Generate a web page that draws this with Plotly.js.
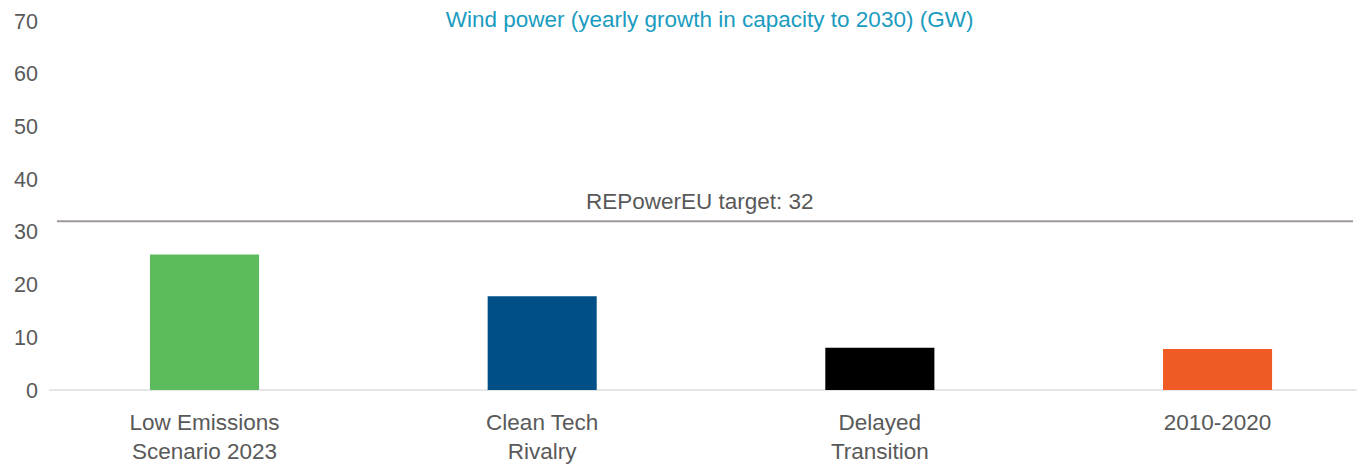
<!DOCTYPE html>
<html>
<head>
<meta charset="utf-8">
<script src="https://cdn.plot.ly/plotly-3.0.1.min.js"></script>
<style>html,body{margin:0;padding:0;background:#fff;}#chart{width:1357px;height:466px;}</style>
</head>
<body>
<div id="chart"></div>
<script>
const categories = ["Low Emissions<br>Scenario 2023", "Clean Tech<br>Rivalry", "Delayed<br>Transition", "2010-2020"];
const values = [25.7, 17.8, 8.0, 7.8];
const barColors = ["#5CBB5C", "#004F86", "#000000", "#F05A24"];
const targetValue = 32;
const targetLabel = "REPowerEU target: 32";
const chartTitle = "Wind power (yearly growth in capacity to 2030) (GW)";
const yTicks = [0, 10, 20, 30, 40, 50, 60, 70];

const font = "Liberation Sans, Arial, sans-serif";

const trace = {
  type: "bar",
  x: categories,
  y: values,
  marker: {color: barColors, line: {width: 0}},
  width: 0.323,
  hoverinfo: "x+y"
};

const layout = {
  width: 1357, height: 466,
  margin: {l: 49, r: 0, t: 10, b: 66},
  paper_bgcolor: "#ffffff",
  plot_bgcolor: "#ffffff",
  showlegend: false,
  font: {family: font, color: "#595959", size: 21},
  title: {
    text: chartTitle,
    font: {family: font, size: 22.5, color: "#1A9CC0"},
    x: 0.505, xref: "paper", xanchor: "center",
    y: 0.96, yref: "container", yanchor: "middle"
  },
  xaxis: {
    type: "category",
    range: [-0.4605, 3.413],
    showgrid: false, zeroline: false, showline: false,
    ticks: "",
    tickfont: {family: font, size: 22.5, color: "#595959"},
    ticklabelstandoff: 6
  },
  yaxis: {
    range: [-1.9, 72.1],
    tickvals: yTicks,
    ticktext: yTicks.map(String),
    showgrid: false,
    zeroline: true, zerolinecolor: "#E6E6E6", zerolinewidth: 2,
    showline: false, ticks: "",
    tickfont: {family: font, size: 21.5, color: "#595959"},
    ticklabelstandoff: 10
  },
  shapes: [{
    type: "line", xref: "paper", yref: "y",
    x0: 0.0061, x1: 0.997, y0: targetValue, y1: targetValue,
    line: {color: "#A09896", width: 2}
  }],
  annotations: [{
    text: targetLabel, xref: "paper", yref: "y",
    x: 0.4977, y: targetValue, xanchor: "center", yanchor: "bottom",
    yshift: 5, showarrow: false,
    font: {family: font, size: 22.5, color: "#595959"}
  }]
};

Plotly.newPlot("chart", [trace], layout, {displayModeBar: false, staticPlot: true});
</script>
</body>
</html>
